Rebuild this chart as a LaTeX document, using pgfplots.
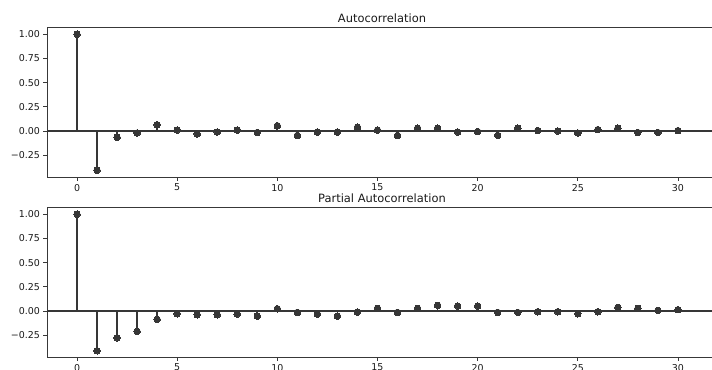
\documentclass[border=0pt]{standalone}
\usepackage{fontspec}
\setmainfont{DejaVu Sans}
\usepackage{pgfplots}
\pgfplotsset{compat=1.18}
\usepackage{pgfplotstable}

\definecolor{stemc}{HTML}{363636}
\definecolor{framec}{HTML}{383838}

\pgfplotstableread{
lag val
0 1.0
1 -0.405
2 -0.065
3 -0.02
4 0.065
5 0.01
6 -0.03
7 -0.01
8 0.01
9 -0.015
10 0.055
11 -0.045
12 -0.01
13 -0.01
14 0.04
15 0.01
16 -0.045
17 0.03
18 0.03
19 -0.01
20 -0.005
21 -0.045
22 0.03
23 0.005
24 0.0
25 -0.02
26 0.015
27 0.03
28 -0.015
29 -0.015
30 0.005
}\acfdata

\pgfplotstableread{
lag val
0 1.0
1 -0.41
2 -0.276
3 -0.21
4 -0.086
5 -0.028
6 -0.038
7 -0.038
8 -0.031
9 -0.052
10 0.024
11 -0.014
12 -0.031
13 -0.052
14 -0.01
15 0.028
16 -0.014
17 0.028
18 0.059
19 0.052
20 0.052
21 -0.014
22 -0.014
23 -0.007
24 -0.007
25 -0.028
26 -0.007
27 0.038
28 0.028
29 0.007
30 0.014
}\pacfdata

\pgfplotsset{acfstyle/.style={
  scale only axis, width=670bp, height=149.5bp,
  xmin=-1.5, xmax=31.95, ymin=-0.475, ymax=1.07,
  xtick={0,5,...,30},
  ytick={-0.25,0,0.25,0.5,0.75,1},
  yticklabels={−0.25,0.00,0.25,0.50,0.75,1.00},
  tick align=outside, major tick length=3.5bp,
  xtick pos=lower, ytick pos=left,
  tick style={framec, line width=0.8bp},
  axis line style={framec, line width=1bp},
  tick label style={font=\fontsize{9.5}{10}\selectfont, text=black!90},
  /pgf/number format/assume math mode=true,
  title style={font=\fontsize{11.5}{12}\selectfont, text=black!90, yshift=-4.5bp},
}}

\begin{document}
\begin{tikzpicture}
\useasboundingbox (0bp,0bp) rectangle (712bp,-370bp);
\clip (0bp,0bp) rectangle (712bp,-370bp);
\begin{axis}[acfstyle, at={(47bp,-177bp)}, anchor=south west, title={Autocorrelation}]
\addplot[stemc, line width=1.7bp, ycomb, mark=*, mark size=3.3bp, mark options={fill=stemc, draw=stemc, line width=0pt}] table[x=lag,y=val]{\acfdata};
\addplot[stemc, line width=1.3bp, no marks] coordinates {(-1.5,0) (31.95,0)};
\end{axis}
\begin{axis}[acfstyle, at={(47bp,-357bp)}, anchor=south west, title={Partial Autocorrelation}]
\addplot[stemc, line width=1.7bp, ycomb, mark=*, mark size=3.3bp, mark options={fill=stemc, draw=stemc, line width=0pt}] table[x=lag,y=val]{\pacfdata};
\addplot[stemc, line width=1.3bp, no marks] coordinates {(-1.5,0) (31.95,0)};
\end{axis}
\end{tikzpicture}
\end{document}
